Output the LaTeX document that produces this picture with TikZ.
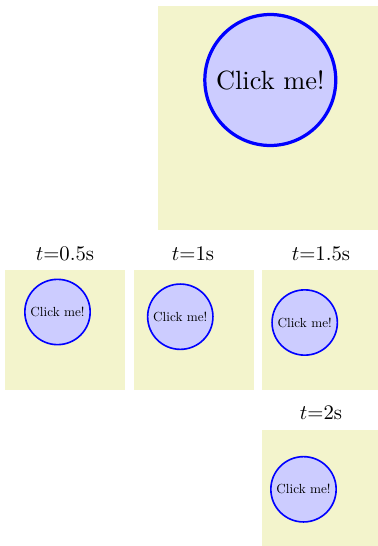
\documentclass[tikz,border=0pt]{standalone}
\definecolor{panelbg}{RGB}{243,244,204}
\definecolor{btnfill}{RGB}{204,204,255}
\tikzset{
  panel/.style={fill=panelbg, draw=none},
  bigbtn/.style={circle, draw=blue, fill=btnfill, line width=1.9pt, inner sep=0pt, minimum size=77pt},
  smallbtn/.style={circle, draw=blue, fill=btnfill, line width=0.95pt, inner sep=0pt, minimum size=38.4pt},
  tlabel/.style={inner sep=0pt}
}
\begin{document}
\begin{tikzpicture}[x=0.588pt,y=-0.588pt]
\useasboundingbox (0,0) rectangle (378,546);
% panels
\path[panel] (158,6) rectangle (378,230);
\path[panel] (5,270) rectangle (125,390);
\path[panel] (134,270) rectangle (254,390);
\path[panel] (262,270) rectangle (378,390);
\path[panel] (262,430) rectangle (378,546);
% big button
\node[bigbtn] (big) at (270.3,80) {\scalebox{1.55}{Click me!}};
% labels
\node[tlabel] (l1) at (65,254) {\scalebox{1.22}{$t{=}0.5$s}};
\node[tlabel] (l2) at (193,254) {\scalebox{1.22}{$t{=}1$s}};
\node[tlabel] (l3) at (321,254) {\scalebox{1.22}{$t{=}1.5$s}};
\node[tlabel] (l4) at (321,413) {\scalebox{1.22}{$t{=}2$s}};
% small buttons
\node[smallbtn] (b1) at (57.5,312) {\scalebox{0.775}{Click me!}};
\node[smallbtn] (b2) at (180.3,316.7) {\scalebox{0.775}{Click me!}};
\node[smallbtn] (b3) at (304.7,322.5) {\scalebox{0.775}{Click me!}};
\node[smallbtn] (b4) at (303.5,489.3) {\scalebox{0.775}{Click me!}};
\end{tikzpicture}
\end{document}
